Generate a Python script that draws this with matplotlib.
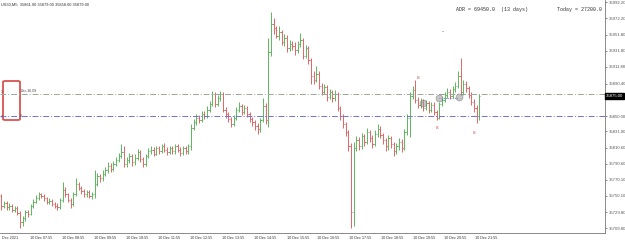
import matplotlib
matplotlib.use("Agg")
import matplotlib.pyplot as plt
from matplotlib.patches import FancyBboxPatch

# ---- data (US30 M5, 10 Dec 2021) ----
opens = [35750, 35738, 35741, 35736, 35738, 35733, 35735, 35729, 35718, 35722,
         35730, 35728, 35738, 35743, 35748, 35752, 35750, 35747, 35743, 35744,
         35740, 35738, 35736, 35745, 35758, 35752, 35745, 35740, 35752, 35765,
         35760, 35756, 35752, 35755, 35750, 35752, 35765, 35775, 35772, 35778,
         35782, 35788, 35784, 35790, 35795, 35800, 35805, 35790, 35795, 35800,
         35792, 35798, 35805, 35796, 35790, 35800, 35806, 35808, 35803, 35810,
         35806, 35812, 35808, 35805, 35810, 35806, 35812, 35808, 35804, 35810,
         35806, 35812, 35835, 35842, 35848, 35845, 35852, 35850, 35858, 35865,
         35878, 35865, 35872, 35878, 35858, 35852, 35846, 35840, 35848, 35858,
         35862, 35855, 35860, 35852, 35846, 35842, 35838, 35834, 35845, 35862,
         35845, 35930, 35965, 35960, 35950, 35955, 35942, 35948, 35935, 35940,
         35938, 35932, 35940, 35945, 35925, 35935, 35920, 35900, 35895, 35903,
         35888, 35880, 35886, 35874, 35880, 35872, 35878, 35860, 35850, 35840,
         35830, 35812, 35730, 35810, 35820, 35812, 35825, 35818, 35830, 35822,
         35815, 35828, 35834, 35826, 35820, 35812, 35822, 35815, 35806, 35812,
         35818, 35810, 35830, 35848, 35875, 35882, 35870, 35864, 35868, 35860,
         35866, 35858, 35864, 35855, 35848, 35865, 35870, 35876, 35880, 35875,
         35884, 35888, 35900, 35880, 35890, 35885, 35876, 35868, 35860, 35850]
closes = [35738, 35741, 35736, 35738, 35733, 35735, 35729, 35718, 35722, 35730,
          35728, 35738, 35743, 35748, 35752, 35750, 35747, 35743, 35744, 35740,
          35738, 35736, 35745, 35758, 35752, 35745, 35740, 35752, 35765, 35760,
          35756, 35752, 35755, 35750, 35752, 35765, 35775, 35772, 35778, 35782,
          35788, 35784, 35790, 35795, 35800, 35805, 35790, 35795, 35800, 35792,
          35798, 35805, 35796, 35790, 35800, 35806, 35808, 35803, 35810, 35806,
          35812, 35808, 35805, 35810, 35806, 35812, 35808, 35804, 35810, 35806,
          35812, 35835, 35842, 35848, 35845, 35852, 35850, 35858, 35865, 35878,
          35865, 35872, 35878, 35858, 35852, 35846, 35840, 35848, 35858, 35862,
          35855, 35860, 35852, 35846, 35842, 35838, 35834, 35845, 35862, 35845,
          35930, 35965, 35960, 35950, 35955, 35942, 35948, 35935, 35940, 35938,
          35932, 35940, 35945, 35925, 35935, 35920, 35900, 35895, 35903, 35888,
          35880, 35886, 35874, 35880, 35872, 35878, 35860, 35850, 35840, 35830,
          35812, 35730, 35810, 35820, 35812, 35825, 35818, 35830, 35822, 35815,
          35828, 35834, 35826, 35820, 35812, 35822, 35815, 35806, 35812, 35818,
          35810, 35830, 35848, 35875, 35882, 35870, 35864, 35868, 35860, 35866,
          35858, 35864, 35855, 35848, 35865, 35870, 35876, 35880, 35875, 35884,
          35888, 35900, 35880, 35890, 35885, 35876, 35868, 35860, 35850, 35875]
highs = [35753, 35744, 35744, 35741, 35740, 35738, 35737, 35731, 35725, 35732,
         35733, 35740, 35746, 35751, 35755, 35754, 35752, 35749, 35747, 35746,
         35743, 35741, 35748, 35768, 35761, 35754, 35747, 35755, 35772, 35768,
         35763, 35759, 35758, 35758, 35755, 35782, 35779, 35778, 35782, 35786,
         35792, 35791, 35794, 35799, 35804, 35815, 35812, 35799, 35804, 35803,
         35802, 35809, 35808, 35799, 35803, 35810, 35812, 35811, 35813, 35813,
         35815, 35816, 35811, 35813, 35813, 35815, 35815, 35811, 35813, 35812,
         35815, 35840, 35846, 35852, 35851, 35856, 35856, 35862, 35869, 35881,
         35880, 35876, 35881, 35880, 35861, 35855, 35849, 35851, 35861, 35867,
         35865, 35864, 35862, 35855, 35849, 35845, 35841, 35848, 35872, 35866,
         35948, 35980, 35972, 35963, 35962, 35958, 35953, 35951, 35945, 35944,
         35942, 35944, 35954, 35948, 35939, 35938, 35923, 35906, 35912, 35906,
         35891, 35890, 35889, 35884, 35883, 35882, 35880, 35863, 35853, 35843,
         35833, 35816, 35818, 35825, 35824, 35829, 35828, 35835, 35833, 35826,
         35832, 35840, 35837, 35829, 35823, 35826, 35825, 35818, 35816, 35822,
         35821, 35834, 35852, 35880, 35887, 35895, 35874, 35872, 35871, 35870,
         35869, 35868, 35867, 35858, 35868, 35874, 35880, 35885, 35884, 35888,
         35893, 35906, 35923, 35895, 35894, 35888, 35880, 35871, 35864, 35878]
lows = [35733, 35735, 35733, 35733, 35730, 35730, 35726, 35710, 35713, 35719,
        35724, 35726, 35735, 35741, 35745, 35747, 35744, 35740, 35740, 35737,
        35735, 35733, 35734, 35743, 35749, 35742, 35735, 35738, 35750, 35757,
        35753, 35749, 35749, 35747, 35746, 35748, 35762, 35768, 35769, 35775,
        35779, 35780, 35781, 35787, 35792, 35797, 35786, 35786, 35791, 35788,
        35789, 35795, 35793, 35786, 35788, 35797, 35803, 35800, 35801, 35803,
        35804, 35805, 35801, 35802, 35803, 35803, 35805, 35800, 35801, 35803,
        35803, 35808, 35832, 35839, 35841, 35842, 35846, 35847, 35855, 35862,
        35861, 35862, 35869, 35855, 35848, 35842, 35836, 35837, 35845, 35855,
        35851, 35852, 35849, 35843, 35838, 35833, 35827, 35830, 35842, 35840,
        35836, 35925, 35953, 35947, 35945, 35939, 35938, 35930, 35931, 35933,
        35926, 35929, 35936, 35921, 35922, 35915, 35890, 35890, 35892, 35884,
        35876, 35877, 35869, 35871, 35868, 35869, 35856, 35845, 35835, 35825,
        35806, 35710, 35713, 35806, 35808, 35809, 35813, 35815, 35818, 35810,
        35812, 35824, 35822, 35815, 35806, 35808, 35810, 35800, 35802, 35808,
        35805, 35807, 35826, 35824, 35871, 35866, 35860, 35860, 35856, 35857,
        35854, 35855, 35851, 35845, 35846, 35862, 35867, 35872, 35871, 35872,
        35880, 35885, 35876, 35876, 35880, 35872, 35864, 35855, 35841, 35845]

x_positions = [3.2, 15, 27, 39, 51, 63, 75, 87, 99, 111, 122.5, 134.5, 146.5,
               158.5, 170, 181.5]
x_labels = ["Dec 2021", "10 Dec 07:55", "10 Dec 08:55", "10 Dec 09:55",
            "10 Dec 10:55", "10 Dec 11:55", "10 Dec 12:55", "10 Dec 13:55",
            "10 Dec 14:55", "10 Dec 15:55", "10 Dec 16:55", "10 Dec 17:55",
            "10 Dec 18:55", "10 Dec 19:55", "10 Dec 20:55", "10 Dec 21:55"]
y_ticks = [35992.20, 35972.20, 35951.80, 35931.80, 35911.80, 35890.40,
           35871.40, 35850.00, 35831.00, 35810.60, 35790.60, 35770.10,
           35750.10, 35729.80, 35709.80]

bid = 35875.00
level_upper = 35877
level_lower = 35850
pivot_x = [158, 164, 171.4]
pivot_y = [35866, 35872.5, 35874]
mark_x = [156, 163.2, 177]
mark_y = [35897.5, 35835, 35829]

W, H = 625, 243      # figure size in pixels
PW, PH = 605, 233    # plot area in pixels

fig = plt.figure(figsize=(W / 100, H / 100), dpi=100)
ax = fig.add_axes([0, (H - PH) / H, PW / W, PH / H])

up_col = "#5cb85c"
dn_col = "#e06666"
idx = list(range(len(closes)))
cols = [up_col if c >= o else dn_col for o, c in zip(opens, closes)]
ax.vlines(idx, lows, highs, colors=cols, lw=0.7)
ax.hlines(opens, [i - 0.45 for i in idx], idx, colors=cols, lw=0.7)
ax.hlines(closes, idx, [i + 0.45 for i in idx], colors=cols, lw=0.7)

ax.axhline(level_upper, color="#98a898", lw=0.7, ls=(0, (6, 2, 1, 2)))
ax.axhline(level_lower, color="#7070d8", lw=0.7, ls=(0, (6, 2, 1, 2)))

ax.set_xlim(-0.5, 226.1)
ax.set_ylim(35703.75, 35995)

# price scale on the right
ax.yaxis.tick_right()
ax.set_yticks(y_ticks)
ax.set_yticklabels([f"{v:.2f}" for v in y_ticks], fontsize=3.1,
                   color="#333333", family="Liberation Sans")
ax.tick_params(axis="y", length=1.5, width=0.5, pad=1, colors="#555555")
ax.set_xticks(x_positions)
ax.set_xticklabels(x_labels, fontsize=2.7, color="#333333",
                   family="Liberation Sans")
ax.tick_params(axis="x", length=0, pad=2)
for s in ["top", "left"]:
    ax.spines[s].set_visible(False)
for s in ["right", "bottom"]:
    ax.spines[s].set_color("#777777")
    ax.spines[s].set_linewidth(0.6)

# current bid box
ax.text(1.002, bid, f"{bid:.2f}", transform=ax.get_yaxis_transform(),
        fontsize=3.1, color="white", va="center", ha="left",
        family="Liberation Sans",
        bbox=dict(boxstyle="square,pad=0.2", fc="black", ec="black"))

# header texts
fig.text(1 / W, 1 - 5 / H, "US30,M5  35861.00 35879.00 35858.00 35879.00",
         fontsize=2.9, color="#333333", va="center", ha="left",
         family="Liberation Sans")
fig.text(456 / W, 1 - 9 / H, "ADR = 69450.0  (13 days)",
         fontsize=3.6, color="#333333", va="center", ha="left",
         family="Liberation Mono")
fig.text(602 / W, 1 - 9 / H, "Today = 27200.0",
         fontsize=3.6, color="#333333", va="center", ha="right",
         family="Liberation Mono")

# red box on the left
box = FancyBboxPatch((3 / PW, 1 - 120 / PH), 17 / PW, 39 / PH,
                     boxstyle="round,pad=0,rounding_size=0.004",
                     transform=ax.transAxes, fill=False, ec="#d9534f", lw=1.3)
ax.add_patch(box)
ax.text(21 / PW, 1 - 91 / PH, "Dec,16,09", transform=ax.transAxes,
        fontsize=2.6, color="#444444", va="center", family="Liberation Sans")
ax.text(0.5 / PW, 1 - 92 / PH, "1", transform=ax.transAxes,
        fontsize=2.6, color="#444444", va="center", family="Liberation Sans")
ax.text(0.5 / PW, 1 - 117 / PH, "7", transform=ax.transAxes,
        fontsize=2.6, color="#444444", va="center", family="Liberation Sans")
ax.text(20 / PW, 1 - 116 / PH, "8", transform=ax.transAxes,
        fontsize=2.6, color="#444444", va="center", family="Liberation Sans")

# pivots and marks near the end of the session
ax.plot(pivot_x[1:], [pivot_y[1], pivot_y[1]], color="#4060c0", lw=0.6, ls=":")
for px, py in zip(pivot_x, pivot_y):
    ax.plot(px, py, "o", ms=5, mfc="#999999", mec="#666666", alpha=0.55, mew=0.5)
for mx, my in zip(mark_x, mark_y):
    ax.text(mx, my, "8", fontsize=3.2, color="#d05050", ha="center", va="center")
ax.text(165.5, 35955, "-", fontsize=4, color="#333333", ha="center", va="center")

fig.savefig("out.png", dpi=100, facecolor="white")
